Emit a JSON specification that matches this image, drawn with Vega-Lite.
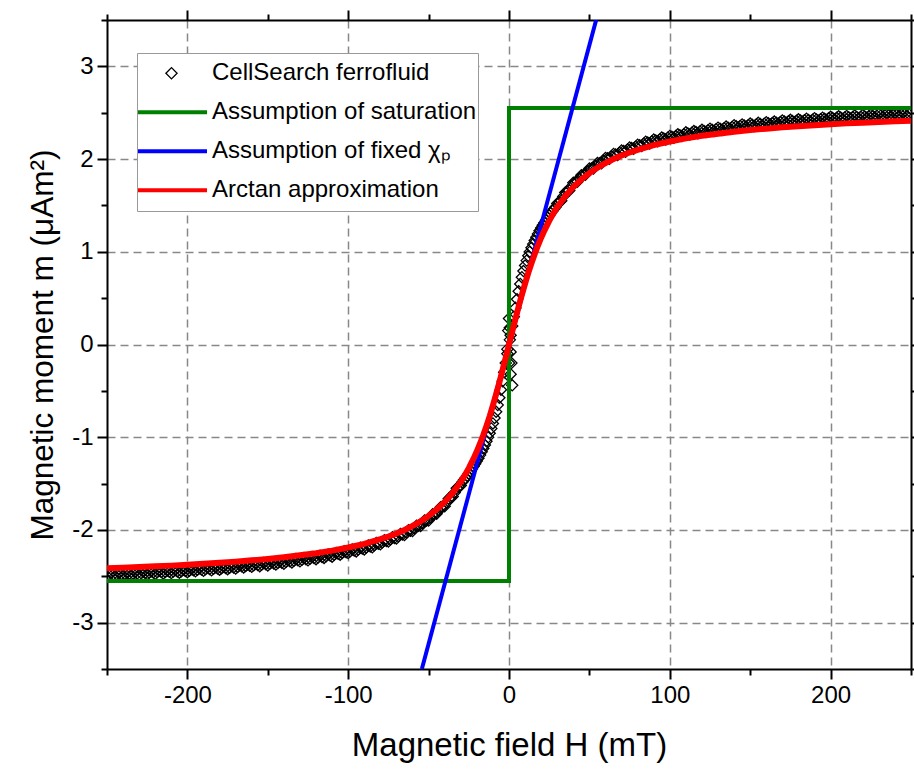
{
  "$schema": "https://vega.github.io/schema/vega-lite/v6.json",
  "width": 804,
  "height": 649,
  "autosize": {"type": "none"},
  "padding": {"left": 107, "top": 20, "right": 3, "bottom": 102},
  "background": "white",
  "config": {
    "view": {"stroke": null},
    "font": "Liberation Sans",
    "axis": {
      "domainColor": "black", "domainWidth": 2, "tickColor": "black", "tickWidth": 2,
      "labelFont": "Liberation Sans", "labelFontSize": 24, "labelColor": "black",
      "titleFont": "Liberation Sans", "titleFontSize": 33, "titleFontWeight": "normal", "titleColor": "black",
      "gridColor": "#888888", "gridDash": [8, 5], "gridWidth": 1.5
    }
  },
  "datasets": {
    "pts": [
      {"H":0,"m":0.28},{"H":-0.5,"m":0.15},{"H":0.5,"m":0.05},{"H":1,"m":-0.08},{"H":1.5,"m":-0.2},{"H":1,"m":-0.32},{"H":2,"m":-0.44},{"H":-1,"m":-0.05},{"H":0.5,"m":0.18},{"H":0,"m":-0.2},
      {"H":1,"m":0.1},{"H":2,"m":0.2},{"H":3,"m":0.3},{"H":4,"m":0.395},{"H":5,"m":0.488},{"H":6,"m":0.574},{"H":7,"m":0.653},{"H":8,"m":0.726},{"H":9,"m":0.792},{"H":10,"m":0.852},{"H":11,"m":0.905},{"H":12,"m":0.957},{"H":13,"m":1.001},{"H":14,"m":1.043},{"H":15,"m":1.083},{"H":16,"m":1.122},{"H":17,"m":1.158},{"H":18,"m":1.193},{"H":19,"m":1.226},{"H":20,"m":1.257},{"H":21,"m":1.286},{"H":22,"m":1.314},{"H":23,"m":1.34},{"H":24,"m":1.366},{"H":25,"m":1.392},{"H":26,"m":1.416},{"H":27,"m":1.44},{"H":28,"m":1.461},{"H":29,"m":1.484},
      {"H":-1,"m":-0.1},{"H":-2,"m":-0.2},{"H":-3,"m":-0.3},{"H":-4,"m":-0.395},{"H":-5,"m":-0.488},{"H":-6,"m":-0.574},{"H":-7,"m":-0.653},{"H":-8,"m":-0.726},{"H":-9,"m":-0.792},{"H":-10,"m":-0.852},{"H":-11,"m":-0.905},{"H":-12,"m":-0.957},{"H":-13,"m":-1.001},{"H":-14,"m":-1.043},{"H":-15,"m":-1.083},{"H":-16,"m":-1.122},{"H":-17,"m":-1.158},{"H":-18,"m":-1.193},{"H":-19,"m":-1.226},{"H":-20,"m":-1.257},{"H":-21,"m":-1.286},{"H":-22,"m":-1.314},{"H":-23,"m":-1.34},{"H":-24,"m":-1.366},{"H":-25,"m":-1.392},{"H":-26,"m":-1.416},{"H":-27,"m":-1.44},{"H":-28,"m":-1.461},{"H":-29,"m":-1.484},
      {"H":30,"m":1.521},{"H":35,"m":1.64},{"H":40,"m":1.744},{"H":45,"m":1.825},{"H":50,"m":1.899},{"H":55,"m":1.957},{"H":60,"m":2.012},{"H":65,"m":2.055},{"H":70,"m":2.093},{"H":75,"m":2.126},{"H":80,"m":2.155},{"H":85,"m":2.187},{"H":90,"m":2.21},{"H":95,"m":2.232},{"H":100,"m":2.25},{"H":105,"m":2.267},{"H":110,"m":2.288},{"H":115,"m":2.302},{"H":120,"m":2.316},{"H":125,"m":2.328},{"H":130,"m":2.339},{"H":135,"m":2.35},{"H":140,"m":2.365},{"H":145,"m":2.374},{"H":150,"m":2.383},{"H":155,"m":2.391},{"H":160,"m":2.398},{"H":165,"m":2.405},{"H":170,"m":2.417},{"H":175,"m":2.423},{"H":180,"m":2.429},{"H":185,"m":2.435},{"H":190,"m":2.441},{"H":195,"m":2.446},{"H":200,"m":2.456},{"H":205,"m":2.461},{"H":210,"m":2.465},{"H":215,"m":2.469},{"H":220,"m":2.473},{"H":225,"m":2.477},{"H":230,"m":2.485},{"H":235,"m":2.489},{"H":240,"m":2.492},{"H":245,"m":2.496},{"H":250,"m":2.499},
      {"H":-30,"m":-1.521},{"H":-35,"m":-1.64},{"H":-40,"m":-1.744},{"H":-45,"m":-1.825},{"H":-50,"m":-1.899},{"H":-55,"m":-1.957},{"H":-60,"m":-2.012},{"H":-65,"m":-2.055},{"H":-70,"m":-2.093},{"H":-75,"m":-2.126},{"H":-80,"m":-2.155},{"H":-85,"m":-2.187},{"H":-90,"m":-2.21},{"H":-95,"m":-2.232},{"H":-100,"m":-2.25},{"H":-105,"m":-2.267},{"H":-110,"m":-2.288},{"H":-115,"m":-2.302},{"H":-120,"m":-2.316},{"H":-125,"m":-2.328},{"H":-130,"m":-2.339},{"H":-135,"m":-2.35},{"H":-140,"m":-2.365},{"H":-145,"m":-2.374},{"H":-150,"m":-2.383},{"H":-155,"m":-2.391},{"H":-160,"m":-2.398},{"H":-165,"m":-2.405},{"H":-170,"m":-2.417},{"H":-175,"m":-2.423},{"H":-180,"m":-2.429},{"H":-185,"m":-2.435},{"H":-190,"m":-2.441},{"H":-195,"m":-2.446},{"H":-200,"m":-2.456},{"H":-205,"m":-2.461},{"H":-210,"m":-2.465},{"H":-215,"m":-2.469},{"H":-220,"m":-2.473},{"H":-225,"m":-2.477},{"H":-230,"m":-2.485},{"H":-235,"m":-2.489},{"H":-240,"m":-2.492},{"H":-245,"m":-2.496},{"H":-250,"m":-2.499},
      {"H":32.5,"m":1.551},{"H":37.5,"m":1.662},{"H":42.5,"m":1.755},{"H":47.5,"m":1.832},{"H":52.5,"m":1.898},{"H":57.5,"m":1.955},{"H":62.5,"m":2.004},{"H":67.5,"m":2.044},{"H":72.5,"m":2.08},{"H":77.5,"m":2.111},{"H":82.5,"m":2.141},{"H":87.5,"m":2.169},{"H":92.5,"m":2.191},{"H":97.5,"m":2.211},{"H":102.5,"m":2.229},{"H":107.5,"m":2.248},{"H":112.5,"m":2.265},{"H":117.5,"m":2.279},{"H":122.5,"m":2.292},{"H":127.5,"m":2.304},{"H":132.5,"m":2.315},{"H":137.5,"m":2.328},{"H":142.5,"m":2.34},{"H":147.5,"m":2.349},{"H":152.5,"m":2.357},{"H":157.5,"m":2.365},{"H":162.5,"m":2.372},{"H":167.5,"m":2.381},{"H":172.5,"m":2.39},{"H":177.5,"m":2.396},{"H":182.5,"m":2.402},{"H":187.5,"m":2.408},{"H":192.5,"m":2.414},{"H":197.5,"m":2.421},{"H":202.5,"m":2.429},{"H":207.5,"m":2.433},{"H":212.5,"m":2.437},{"H":217.5,"m":2.441},{"H":222.5,"m":2.445},{"H":227.5,"m":2.451},{"H":232.5,"m":2.457},{"H":237.5,"m":2.461},{"H":242.5,"m":2.464},{"H":247.5,"m":2.468},
      {"H":-32.5,"m":-1.551},{"H":-37.5,"m":-1.662},{"H":-42.5,"m":-1.755},{"H":-47.5,"m":-1.832},{"H":-52.5,"m":-1.898},{"H":-57.5,"m":-1.955},{"H":-62.5,"m":-2.004},{"H":-67.5,"m":-2.044},{"H":-72.5,"m":-2.08},{"H":-77.5,"m":-2.111},{"H":-82.5,"m":-2.141},{"H":-87.5,"m":-2.169},{"H":-92.5,"m":-2.191},{"H":-97.5,"m":-2.211},{"H":-102.5,"m":-2.229},{"H":-107.5,"m":-2.248},{"H":-112.5,"m":-2.265},{"H":-117.5,"m":-2.279},{"H":-122.5,"m":-2.292},{"H":-127.5,"m":-2.304},{"H":-132.5,"m":-2.315},{"H":-137.5,"m":-2.328},{"H":-142.5,"m":-2.34},{"H":-147.5,"m":-2.349},{"H":-152.5,"m":-2.357},{"H":-157.5,"m":-2.365},{"H":-162.5,"m":-2.372},{"H":-167.5,"m":-2.381},{"H":-172.5,"m":-2.39},{"H":-177.5,"m":-2.396},{"H":-182.5,"m":-2.402},{"H":-187.5,"m":-2.408},{"H":-192.5,"m":-2.414},{"H":-197.5,"m":-2.421},{"H":-202.5,"m":-2.429},{"H":-207.5,"m":-2.433},{"H":-212.5,"m":-2.437},{"H":-217.5,"m":-2.441},{"H":-222.5,"m":-2.445},{"H":-227.5,"m":-2.451},{"H":-232.5,"m":-2.457},{"H":-237.5,"m":-2.461},{"H":-242.5,"m":-2.464},{"H":-247.5,"m":-2.468},
      {"H":31.25,"m":1.536},{"H":36.25,"m":1.651},{"H":41.25,"m":1.75},{"H":46.25,"m":1.829},{"H":51.25,"m":1.899},{"H":56.25,"m":1.956},{"H":61.25,"m":2.008},{"H":66.25,"m":2.05},{"H":71.25,"m":2.087},{"H":76.25,"m":2.119},{"H":81.25,"m":2.148},{"H":86.25,"m":2.178},{"H":91.25,"m":2.2},{"H":96.25,"m":2.222},{"H":101.25,"m":2.24},{"H":106.25,"m":2.258},{"H":111.25,"m":2.277},{"H":116.25,"m":2.291},{"H":121.25,"m":2.304},{"H":126.25,"m":2.316},{"H":131.25,"m":2.327},{"H":136.25,"m":2.339},{"H":141.25,"m":2.353},{"H":146.25,"m":2.362},{"H":151.25,"m":2.37},{"H":156.25,"m":2.378},{"H":161.25,"m":2.385},{"H":166.25,"m":2.393},{"H":171.25,"m":2.404},{"H":176.25,"m":2.41},{"H":181.25,"m":2.416},{"H":186.25,"m":2.422},{"H":191.25,"m":2.428},{"H":196.25,"m":2.434},{"H":201.25,"m":2.443},{"H":206.25,"m":2.447},{"H":211.25,"m":2.451},{"H":216.25,"m":2.455},{"H":221.25,"m":2.459},{"H":226.25,"m":2.464},{"H":231.25,"m":2.471},{"H":236.25,"m":2.475},{"H":241.25,"m":2.478},{"H":246.25,"m":2.482},
      {"H":-31.25,"m":-1.536},{"H":-36.25,"m":-1.651},{"H":-41.25,"m":-1.75},{"H":-46.25,"m":-1.829},{"H":-51.25,"m":-1.899},{"H":-56.25,"m":-1.956},{"H":-61.25,"m":-2.008},{"H":-66.25,"m":-2.05},{"H":-71.25,"m":-2.087},{"H":-76.25,"m":-2.119},{"H":-81.25,"m":-2.148},{"H":-86.25,"m":-2.178},{"H":-91.25,"m":-2.2},{"H":-96.25,"m":-2.222},{"H":-101.25,"m":-2.24},{"H":-106.25,"m":-2.258},{"H":-111.25,"m":-2.277},{"H":-116.25,"m":-2.291},{"H":-121.25,"m":-2.304},{"H":-126.25,"m":-2.316},{"H":-131.25,"m":-2.327},{"H":-136.25,"m":-2.339},{"H":-141.25,"m":-2.353},{"H":-146.25,"m":-2.362},{"H":-151.25,"m":-2.37},{"H":-156.25,"m":-2.378},{"H":-161.25,"m":-2.385},{"H":-166.25,"m":-2.393},{"H":-171.25,"m":-2.404},{"H":-176.25,"m":-2.41},{"H":-181.25,"m":-2.416},{"H":-186.25,"m":-2.422},{"H":-191.25,"m":-2.428},{"H":-196.25,"m":-2.434},{"H":-201.25,"m":-2.443},{"H":-206.25,"m":-2.447},{"H":-211.25,"m":-2.451},{"H":-216.25,"m":-2.455},{"H":-221.25,"m":-2.459},{"H":-226.25,"m":-2.464},{"H":-231.25,"m":-2.471},{"H":-236.25,"m":-2.475},{"H":-241.25,"m":-2.478},{"H":-246.25,"m":-2.482},
      {"H":33.75,"m":1.596},{"H":38.75,"m":1.703},{"H":43.75,"m":1.79},{"H":48.75,"m":1.866},{"H":53.75,"m":1.928},{"H":58.75,"m":1.984},{"H":63.75,"m":2.03},{"H":68.75,"m":2.069},{"H":73.75,"m":2.103},{"H":78.75,"m":2.133},{"H":83.75,"m":2.164},{"H":88.75,"m":2.19},{"H":93.75,"m":2.212},{"H":98.75,"m":2.231},{"H":103.75,"m":2.248},{"H":108.75,"m":2.268},{"H":113.75,"m":2.284},{"H":118.75,"m":2.298},{"H":123.75,"m":2.31},{"H":128.75,"m":2.322},{"H":133.75,"m":2.333},{"H":138.75,"m":2.347},{"H":143.75,"m":2.357},{"H":148.75,"m":2.366},{"H":153.75,"m":2.374},{"H":158.75,"m":2.382},{"H":163.75,"m":2.389},{"H":168.75,"m":2.399},{"H":173.75,"m":2.407},{"H":178.75,"m":2.413},{"H":183.75,"m":2.419},{"H":188.75,"m":2.425},{"H":193.75,"m":2.43},{"H":198.75,"m":2.439},{"H":203.75,"m":2.445},{"H":208.75,"m":2.449},{"H":213.75,"m":2.453},{"H":218.75,"m":2.457},{"H":223.75,"m":2.461},{"H":228.75,"m":2.468},{"H":233.75,"m":2.473},{"H":238.75,"m":2.477},{"H":243.75,"m":2.48},{"H":248.75,"m":2.484},
      {"H":-33.75,"m":-1.596},{"H":-38.75,"m":-1.703},{"H":-43.75,"m":-1.79},{"H":-48.75,"m":-1.866},{"H":-53.75,"m":-1.928},{"H":-58.75,"m":-1.984},{"H":-63.75,"m":-2.03},{"H":-68.75,"m":-2.069},{"H":-73.75,"m":-2.103},{"H":-78.75,"m":-2.133},{"H":-83.75,"m":-2.164},{"H":-88.75,"m":-2.19},{"H":-93.75,"m":-2.212},{"H":-98.75,"m":-2.231},{"H":-103.75,"m":-2.248},{"H":-108.75,"m":-2.268},{"H":-113.75,"m":-2.284},{"H":-118.75,"m":-2.298},{"H":-123.75,"m":-2.31},{"H":-128.75,"m":-2.322},{"H":-133.75,"m":-2.333},{"H":-138.75,"m":-2.347},{"H":-143.75,"m":-2.357},{"H":-148.75,"m":-2.366},{"H":-153.75,"m":-2.374},{"H":-158.75,"m":-2.382},{"H":-163.75,"m":-2.389},{"H":-168.75,"m":-2.399},{"H":-173.75,"m":-2.407},{"H":-178.75,"m":-2.413},{"H":-183.75,"m":-2.419},{"H":-188.75,"m":-2.425},{"H":-193.75,"m":-2.43},{"H":-198.75,"m":-2.439},{"H":-203.75,"m":-2.445},{"H":-208.75,"m":-2.449},{"H":-213.75,"m":-2.453},{"H":-218.75,"m":-2.457},{"H":-223.75,"m":-2.461},{"H":-228.75,"m":-2.468},{"H":-233.75,"m":-2.473},{"H":-238.75,"m":-2.477},{"H":-243.75,"m":-2.48},{"H":-248.75,"m":-2.484}
    ],
    "sat": [
      {"H":-250,"m":-2.55,"o":1},{"H":0,"m":-2.55,"o":2},{"H":0,"m":2.55,"o":3},{"H":250,"m":2.55,"o":4}
    ],
    "fixed": [
      {"H":-54.2,"m":-3.5},{"H":54.2,"m":3.5}
    ],
    "arctan": [
      {"H":-250,"m":-2.414},{"H":-240,"m":-2.407},{"H":-230,"m":-2.4},{"H":-220,"m":-2.393},{"H":-210,"m":-2.385},{"H":-200,"m":-2.376},{"H":-190,"m":-2.366},{"H":-180,"m":-2.354},{"H":-170,"m":-2.342},{"H":-160,"m":-2.328},{"H":-150,"m":-2.313},{"H":-140,"m":-2.295},{"H":-130,"m":-2.274},{"H":-120,"m":-2.251},{"H":-110,"m":-2.223},{"H":-100,"m":-2.19},{"H":-90,"m":-2.15},{"H":-80,"m":-2.1},{"H":-75,"m":-2.071},{"H":-70,"m":-2.038},{"H":-65,"m":-2.0},{"H":-60,"m":-1.957},{"H":-55,"m":-1.907},{"H":-50,"m":-1.849},{"H":-45,"m":-1.78},{"H":-40,"m":-1.699},{"H":-35,"m":-1.6},{"H":-30,"m":-1.481},{"H":-28,"m":-1.426},{"H":-25,"m":-1.334},{"H":-22,"m":-1.229},{"H":-20,"m":-1.152},{"H":-18,"m":-1.068},{"H":-16,"m":-0.977},{"H":-14,"m":-0.878},{"H":-12,"m":-0.772},{"H":-10,"m":-0.657},{"H":-8,"m":-0.536},{"H":-6,"m":-0.409},{"H":-4,"m":-0.275},{"H":-2,"m":-0.139},
      {"H":0,"m":0},
      {"H":2,"m":0.139},{"H":4,"m":0.275},{"H":6,"m":0.409},{"H":8,"m":0.536},{"H":10,"m":0.657},{"H":12,"m":0.772},{"H":14,"m":0.878},{"H":16,"m":0.977},{"H":18,"m":1.068},{"H":20,"m":1.152},{"H":22,"m":1.229},{"H":25,"m":1.334},{"H":28,"m":1.426},{"H":30,"m":1.481},{"H":35,"m":1.6},{"H":40,"m":1.699},{"H":45,"m":1.78},{"H":50,"m":1.849},{"H":55,"m":1.907},{"H":60,"m":1.957},{"H":65,"m":2.0},{"H":70,"m":2.038},{"H":75,"m":2.071},{"H":80,"m":2.1},{"H":90,"m":2.15},{"H":100,"m":2.19},{"H":110,"m":2.223},{"H":120,"m":2.251},{"H":130,"m":2.274},{"H":140,"m":2.295},{"H":150,"m":2.313},{"H":160,"m":2.328},{"H":170,"m":2.342},{"H":180,"m":2.354},{"H":190,"m":2.366},{"H":200,"m":2.376},{"H":210,"m":2.385},{"H":220,"m":2.393},{"H":230,"m":2.4},{"H":240,"m":2.407},{"H":250,"m":2.414}
    ]
  },
  "resolve": {"axis": {"x": "independent", "y": "independent"}},
  "layer": [
    {
      "data": {"name": "pts"},
      "mark": {"type": "point", "filled": false, "clip": true, "opacity": 1},
      "encoding": {
        "x": {"field": "H", "type": "quantitative",
          "scale": {"domain": [-250, 250], "nice": false, "zero": false},
          "axis": {
            "orient": "bottom", "title": "Magnetic field H (mT)", "titlePadding": 22,
            "values": [-250,-200,-150,-100,-50,0,50,100,150,200,250],
            "labelExpr": "datum.value % 100 === 0 ? '' + datum.value : ''",
            "labelPadding": 4, "labelFlush": false, "labelOverlap": false,
            "grid": true,
            "gridOpacity": {"condition": {"test": "datum.value % 100 === 0 && abs(datum.value) < 250", "value": 1}, "value": 0},
            "tickSize": {"condition": {"test": "datum.value % 100 === 0", "value": 10}, "value": 6}
          }
        },
        "y": {"field": "m", "type": "quantitative",
          "scale": {"domain": [-3.5, 3.5], "nice": false, "zero": false},
          "axis": {
            "orient": "left", "title": "Magnetic moment m (μAm²)", "titlePadding": 12, "titleFontSize": 31.5,
            "values": [-3.5,-3,-2.5,-2,-1.5,-1,-0.5,0,0.5,1,1.5,2,2.5,3,3.5],
            "labelExpr": "datum.value % 1 === 0 ? '' + datum.value : ''",
            "labelPadding": 4, "labelFlush": false, "labelOverlap": false,
            "grid": true,
            "gridOpacity": {"condition": {"test": "datum.value % 1 === 0 && abs(datum.value) < 3.5", "value": 1}, "value": 0},
            "tickSize": {"condition": {"test": "datum.value % 1 === 0", "value": 10}, "value": 6}
          }
        },
        "color": {"datum": "CellSearch ferrofluid", "type": "nominal",
          "scale": {
            "domain": ["CellSearch ferrofluid", "Assumption of saturation", "Assumption of fixed χₚ", "Arctan approximation"],
            "range": ["#000000", "#008000", "#0000ff", "#ff0000"]
          },
          "legend": {
            "orient": "none", "legendX": 30, "legendY": 33, "title": null,
            "symbolOffset": -4,
            "labelFont": "Liberation Sans", "labelFontSize": 24, "labelColor": "black", "labelOffset": 3,
            "labelLimit": 400, "symbolFillColor": "transparent",
            "fillColor": "white", "strokeColor": "#999999", "padding": 1, "rowPadding": 0, "clipHeight": 38.5
          }
        },
        "shape": {"datum": "CellSearch ferrofluid", "type": "nominal",
          "scale": {
            "domain": ["CellSearch ferrofluid", "Assumption of saturation", "Assumption of fixed χₚ", "Arctan approximation"],
            "range": ["diamond", "stroke", "stroke", "stroke"]
          }
        },
        "size": {"datum": "CellSearch ferrofluid", "type": "nominal",
          "scale": {
            "type": "ordinal",
            "domain": ["CellSearch ferrofluid", "Assumption of saturation", "Assumption of fixed χₚ", "Arctan approximation"],
            "range": [125, 5041, 5041, 5041]
          }
        },
        "strokeWidth": {"datum": "CellSearch ferrofluid", "type": "nominal",
          "scale": {
            "type": "ordinal",
            "domain": ["CellSearch ferrofluid", "Assumption of saturation", "Assumption of fixed χₚ", "Arctan approximation"],
            "range": [1.3, 4, 4, 4]
          }
        }
      }
    },
    {
      "data": {"name": "sat"},
      "mark": {"type": "line", "strokeWidth": 4, "clip": true},
      "encoding": {
        "x": {"field": "H", "type": "quantitative",
          "scale": {"domain": [-250, 250], "nice": false, "zero": false},
          "axis": {
            "orient": "top", "title": null, "labels": false, "grid": false,
            "values": [-250,-200,-150,-100,-50,0,50,100,150,200,250],
            "tickSize": {"condition": {"test": "datum.value % 100 === 0", "value": 10}, "value": 6}
          }
        },
        "y": {"field": "m", "type": "quantitative",
          "scale": {"domain": [-3.5, 3.5], "nice": false, "zero": false},
          "axis": {
            "orient": "right", "title": null, "labels": false, "grid": false,
            "values": [-3.5,-3,-2.5,-2,-1.5,-1,-0.5,0,0.5,1,1.5,2,2.5,3,3.5],
            "tickSize": {"condition": {"test": "datum.value % 1 === 0", "value": 10}, "value": 6}
          }
        },
        "order": {"field": "o", "type": "quantitative"},
        "color": {"datum": "Assumption of saturation", "type": "nominal"}
      }
    },
    {
      "data": {"name": "fixed"},
      "mark": {"type": "line", "strokeWidth": 4, "clip": true},
      "encoding": {
        "x": {"field": "H", "type": "quantitative", "scale": {"domain": [-250, 250], "nice": false, "zero": false}, "axis": null},
        "y": {"field": "m", "type": "quantitative", "scale": {"domain": [-3.5, 3.5], "nice": false, "zero": false}, "axis": null},
        "color": {"datum": "Assumption of fixed χₚ", "type": "nominal"}
      }
    },
    {
      "data": {"name": "arctan"},
      "mark": {"type": "line", "strokeWidth": 6, "clip": true},
      "encoding": {
        "x": {"field": "H", "type": "quantitative", "scale": {"domain": [-250, 250], "nice": false, "zero": false}, "axis": null},
        "y": {"field": "m", "type": "quantitative", "scale": {"domain": [-3.5, 3.5], "nice": false, "zero": false}, "axis": null},
        "color": {"datum": "Arctan approximation", "type": "nominal"}
      }
    }
  ]
}
